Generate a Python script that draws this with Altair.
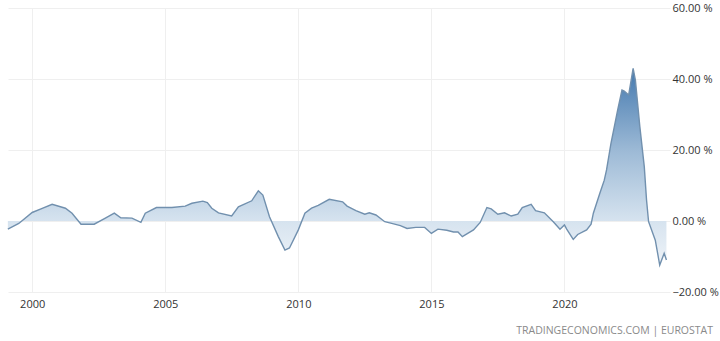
import altair as alt
import pandas as pd

dates = [
    "1999-02", "1999-07", "2000-01", "2000-05", "2000-10", "2001-04", "2001-07", "2001-11",
    "2002-05", "2002-10", "2003-02", "2003-05", "2003-10", "2004-02", "2004-04", "2004-09",
    "2005-04", "2005-10", "2006-01", "2006-06", "2006-08", "2006-10", "2007-01", "2007-07",
    "2007-10", "2008-04", "2008-07", "2008-09", "2008-12", "2009-04", "2009-07", "2009-09",
    "2010-01", "2010-04", "2010-07", "2010-10", "2011-03", "2011-09", "2011-11", "2012-03",
    "2012-07", "2012-09", "2012-12", "2013-04", "2013-08", "2013-11", "2014-02", "2014-06",
    "2014-10", "2015-01", "2015-04", "2015-08", "2015-11", "2016-01", "2016-03", "2016-08",
    "2016-11", "2017-02", "2017-04", "2017-07", "2017-10", "2018-01", "2018-04", "2018-06",
    "2018-10", "2018-12", "2019-04", "2019-08", "2019-11", "2020-01", "2020-02", "2020-05",
    "2020-07", "2020-11", "2021-01", "2021-02", "2021-05", "2021-07", "2021-08", "2021-10",
    "2022-01", "2022-03", "2022-04", "2022-06", "2022-08", "2022-09", "2022-11", "2023-01",
    "2023-02", "2023-03", "2023-06", "2023-08", "2023-10", "2023-11",
]
values = [
    -2.3, -0.7, 2.4, 3.4, 4.7, 3.6, 2.2, -0.9,
    -0.9, 0.8, 2.2, 0.9, 0.8, -0.4, 2.2, 3.8,
    3.8, 4.2, 5.0, 5.6, 5.2, 3.6, 2.3, 1.4,
    4.0, 5.7, 8.5, 7.3, 1.2, -4.4, -8.2, -7.6,
    -2.5, 2.2, 3.6, 4.4, 6.1, 5.4, 4.2, 2.9,
    1.9, 2.3, 1.7, -0.2, -0.8, -1.3, -2.1, -1.8,
    -1.8, -3.5, -2.3, -2.6, -3.1, -3.1, -4.4, -2.5,
    -0.4, 3.8, 3.4, 1.9, 2.3, 1.4, 1.9, 3.8,
    4.7, 2.9, 2.3, -0.2, -2.3, -1.1, -2.3, -5.2,
    -3.8, -2.5, -0.9, 2.2, 7.8, 11.5, 14.4, 21.9,
    31.3, 36.9, 36.6, 35.5, 43.0, 39.7, 26.6, 15.3,
    5.9, -0.2, -5.4, -12.4, -9.1, -11.0,
]
year_ticks = [2000, 2005, 2010, 2015, 2020]
y_ticks = [-20, 0, 20, 40, 60]
source_text = "TRADINGECONOMICS.COM | EUROSTAT"

df = pd.DataFrame({"date": dates, "value": values})

FONT = "Open Sans"

x_enc = alt.X(
    "date:T",
    scale=alt.Scale(domain=["1999-02-03", "2023-12-20"], nice=False),
    axis=alt.Axis(
        values=[alt.DateTime(year=y, month=1, date=1) for y in year_ticks],
        format="%Y",
        title=None,
        domain=False,
        ticks=False,
        labelPadding=6,
        labelFontSize=11,
        labelColor="#333333",
        labelFont=FONT,
        gridColor="#efefef",
        gridWidth=1,
    ),
)
y_enc = alt.Y(
    "value:Q",
    scale=alt.Scale(domain=[-20, 60], nice=False),
    axis=alt.Axis(
        orient="right",
        values=y_ticks,
        labelExpr="format(datum.value, '.2f') + ' %'",
        title=None,
        domain=False,
        ticks=False,
        labelPadding=2,
        labelFontSize=11,
        labelColor="#333333",
        labelFont=FONT,
        gridColor="#efefef",
        gridWidth=1,
    ),
)

area = alt.Chart(df).mark_area(
    fill=alt.Gradient(
        gradient="linear",
        x1=0, x2=0, y1=0, y2=1,
        stops=[
            alt.GradientStop(offset=0, color="#4479af"),
            alt.GradientStop(offset=0.42, color="#9dbad6"),
            alt.GradientStop(offset=0.776, color="#d6e3ef"),
            alt.GradientStop(offset=1, color="#eef3f8"),
        ],
    ),
    interpolate="linear",
).encode(x=x_enc, y=y_enc, y2=alt.datum(0))

line = alt.Chart(df).mark_line(color="#7190ae", strokeWidth=1.4).encode(
    x=alt.X("date:T"), y=alt.Y("value:Q")
)

footer = alt.Chart(pd.DataFrame({"t": [source_text]})).mark_text(
    align="right", baseline="middle", fontSize=10.5, font=FONT, color="#8a8a8a"
).encode(text="t:N", x=alt.value(705), y=alt.value(323))

chart = (
    alt.layer(area, line, footer)
    .properties(
        width=662,
        height=284,
        autosize=alt.AutoSizeParams(type="none"),
        padding={"left": 8, "top": 8, "right": 50, "bottom": 49},
        background="white",
    )
    .configure_view(stroke=None)
    .configure_axis(domain=False, ticks=False)
)

chart.save("out.html", embed_options={"renderer": "svg", "actions": False})
